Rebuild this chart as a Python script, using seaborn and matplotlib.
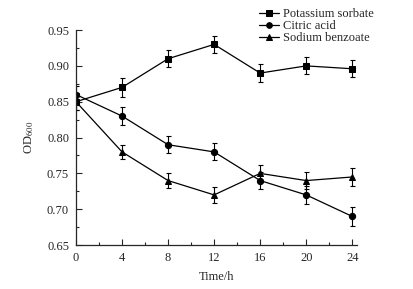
import matplotlib
matplotlib.use("Agg")
import matplotlib.pyplot as plt
import pandas as pd
import seaborn as sns
from matplotlib.ticker import MultipleLocator

sns.set_style("ticks")
plt.rcParams["font.family"] = ["Liberation Serif", "DejaVu Serif"]
plt.rcParams["mathtext.fontset"] = "stix"

# data
hours = [0, 4, 8, 12, 16, 20, 24]
potassium_sorbate = [0.850, 0.870, 0.910, 0.930, 0.890, 0.900, 0.896]
potassium_err = [0.012, 0.013, 0.012, 0.012, 0.013, 0.012, 0.012]
citric_acid = [0.860, 0.830, 0.790, 0.780, 0.740, 0.720, 0.690]
citric_err = [0.012, 0.013, 0.012, 0.012, 0.012, 0.012, 0.013]
sodium_benzoate = [0.850, 0.780, 0.740, 0.720, 0.750, 0.740, 0.745]
sodium_err = [0.012, 0.010, 0.011, 0.011, 0.012, 0.012, 0.012]

series = ["Potassium sorbate", "Citric acid", "Sodium benzoate"]
df = pd.DataFrame({
    "Time": hours * 3,
    "OD": potassium_sorbate + citric_acid + sodium_benzoate,
    "err": potassium_err + citric_err + sodium_err,
    "group": [s for s in series for _ in hours],
})

fig = plt.figure(figsize=(4.13, 2.89), dpi=100)
ax = fig.add_axes([0.184, 0.152, 0.68, 0.744])

sns.lineplot(
    data=df, x="Time", y="OD", hue="group", style="group",
    palette=["black"] * 3, markers=["s", "o", "^"], dashes=False,
    markersize=4.5, linewidth=0.9, markeredgecolor="black",
    ax=ax, legend=True,
)
for name in series:
    sub = df[df.group == name]
    ax.errorbar(sub.Time, sub.OD, yerr=sub.err, fmt="none", ecolor="black",
                elinewidth=0.8, capsize=1.8, capthick=0.8)

ax.set_xlim(0, 24.4)
ax.set_ylim(0.65, 0.95)
ax.set_xticks(hours)
ax.xaxis.set_minor_locator(MultipleLocator(2))
ax.set_yticks([0.65, 0.70, 0.75, 0.80, 0.85, 0.90, 0.95])
ax.yaxis.set_minor_locator(MultipleLocator(0.025))
ax.set_yticklabels([f"{v:.2f}" for v in ax.get_yticks()])
ax.tick_params(which="both", direction="in", labelsize=9, width=0.8)
ax.tick_params(which="major", length=4, pad=5)
ax.tick_params(which="minor", length=2)
ax.set_xlabel("Time/h", fontsize=9, labelpad=5)
ax.set_ylabel("OD$_{600}$", fontsize=9, labelpad=8)
sns.despine(ax=ax)
for s in ["left", "bottom"]:
    ax.spines[s].set_linewidth(0.9)

leg = ax.legend(loc="upper left", bbox_to_anchor=(0.635, 1.125), frameon=False,
                fontsize=9, handlelength=1.6, handletextpad=0.3,
                labelspacing=0.0, borderaxespad=0, markerscale=0.9)
leg.set_title(None)

fig.savefig("out.png", dpi=100)
